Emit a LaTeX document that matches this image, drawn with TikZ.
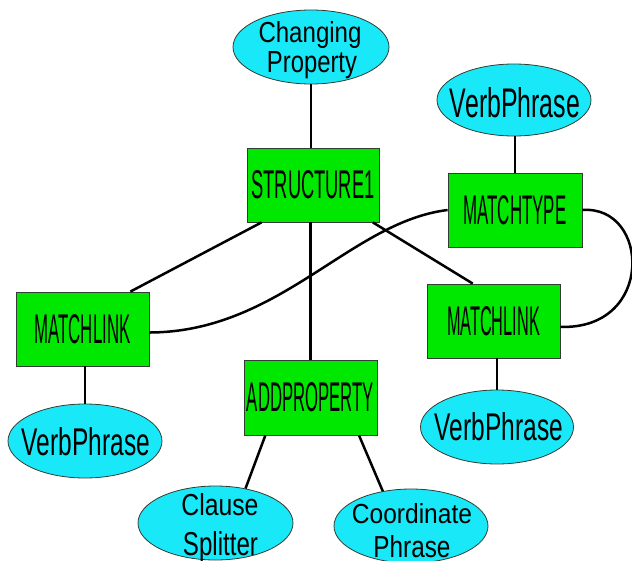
\documentclass[tikz,border=0pt]{standalone}
\usepackage{fontspec}
\setmainfont{Liberation Sans}
\usepackage{graphicx}
\usetikzlibrary{shapes.geometric}
\definecolor{boxgreen}{RGB}{0,232,0}
\definecolor{ellcyan}{RGB}{25,232,248}
\definecolor{edgegray}{RGB}{50,60,50}
\newcommand\fit[3]{\resizebox{#1pt}{#2pt}{#3}}
\tikzset{
  box/.style={draw=edgegray, line width=0.8pt, fill=boxgreen, rectangle, inner sep=0pt},
  ell/.style={draw=edgegray, line width=0.8pt, fill=ellcyan, ellipse, inner sep=0pt},
  lbl/.style={inner sep=0pt, anchor=base},
  conn/.style={line width=2.5pt, black}
}
\begin{document}
\begin{tikzpicture}[x=1pt, y=-1pt]
\useasboundingbox (0,0) rectangle (632,560);
% boxes
\node[box, minimum width=132pt, minimum height=74pt] (s1) at (313,185) {\fit{123}{28}{STRUCTURE1}};
\node[box, minimum width=134pt, minimum height=74pt] (mt) at (515,210) {\fit{103}{29}{MATCHTYPE}};
\node[box, minimum width=133pt, minimum height=74pt] (mr) at (493.5,321) {\fit{93}{29}{MATCHLINK}};
\node[box, minimum width=133pt, minimum height=74pt] (ml) at (82.5,329) {\fit{96}{29}{MATCHLINK}};
\node[box, minimum width=133pt, minimum height=75pt] (ap) at (310.5,397.5) {\fit{127}{29}{ADDPROPERTY}};
% ellipses
\node[ell, minimum width=156pt, minimum height=74pt] (cp) at (311,47) {};
\node[ell, minimum width=154pt, minimum height=72pt] (vp1) at (514,100) {};
\node[ell, minimum width=154pt, minimum height=74pt] (vp2) at (85,441) {};
\node[ell, minimum width=153pt, minimum height=74pt] (vp3) at (497,427) {};
\node[ell, minimum width=155pt, minimum height=74pt] (cs) at (215.5,523) {};
\node[ell, minimum width=154pt, minimum height=74pt] (co) at (411,526) {};
% ellipse texts
\node[lbl] (cpt1) at (310,42) {\fit{103}{21}{Changing}};
\node[lbl] (cpt2) at (312,72) {\fit{90}{21}{Property}};
\node[lbl] (vp1t) at (515,117) {\fit{130}{30}{VerbPhrase}};
\node[lbl] (vp2t) at (86,455) {\fit{128}{28}{VerbPhrase}};
\node[lbl] (vp3t) at (499,440) {\fit{128}{28}{VerbPhrase}};
\node[lbl] (cst1) at (220,515) {\fit{77}{22}{Clause}};
\node[lbl] (cst2) at (220.5,555) {\fit{75}{24}{Splitter}};
\node[lbl] (cot1) at (412,523) {\fit{120}{20}{Coordinate}};
\node[lbl] (cot2) at (412,557) {\fit{77}{22}{Phrase}};
% connectors
\draw[conn] (cp.south) -- (cp.south |- s1.north);
\draw[conn] (s1.216) -- (ml.38.5);
\draw[conn] (s1.328) -- (mr.119);
\draw[conn] (s1.south -| ap.north) -- (ap.north);
\draw[conn] (mt.north) -- (mt.north |- vp1.south);
\draw[conn] (vp2.north |- ml.south) -- (vp2.north);
\draw[conn] (vp3.north |- mr.south) -- (vp3.north);
\draw[conn] (ap.220.8) -- (cs.49);
\draw[conn] (ap.-38.3) -- (co.129);
\draw[conn] (ml.-3.4) .. controls (280,332) and (350,222) .. (mt.west);
\draw[conn] (mt.east) .. controls (650,205) and (655,330) .. (mr.-5.2);
\end{tikzpicture}
\end{document}
